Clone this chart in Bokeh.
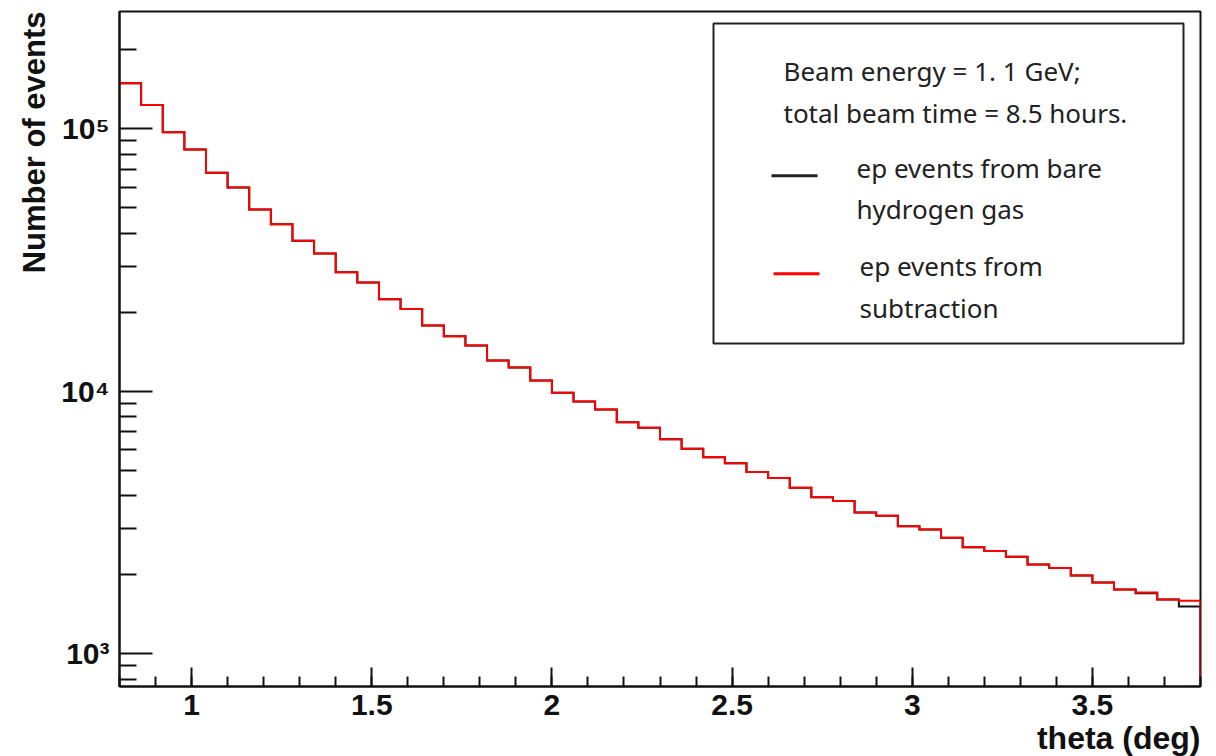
import numpy as np
from bokeh.plotting import figure
from bokeh.models import (Range1d, SingleIntervalTicker, FixedTicker, Title,
                          CustomJSTickFormatter, Label, BoxAnnotation, Arrow)
from bokeh.embed import file_html
from bokeh.resources import INLINE

# ---------------- data ----------------
theta_edges = np.round(np.linspace(0.8, 3.8, 51), 2)   # 50 bins of 0.06 deg

subtraction_counts = [149200, 123400, 97000, 83400, 68000, 59800, 49300, 43300, 37500, 33500,
                      28400, 26000, 22400, 20600, 17800, 16200, 14940, 13100, 12320, 10990,
                      9870, 9140, 8520, 7620, 7260, 6570, 6040, 5600, 5320, 4920,
                      4670, 4290, 3950, 3815, 3454, 3355, 3062, 2975, 2766, 2547,
                      2460, 2342, 2189, 2119, 1987, 1869, 1758, 1712, 1610, 1592]

bare_h2_counts = [149200, 123400, 97000, 83400, 68000, 59800, 49300, 43300, 37500, 33500,
                  28400, 26000, 22400, 20600, 17800, 16200, 14940, 13100, 12320, 10990,
                  9870, 9140, 8520, 7620, 7260, 6570, 6040, 5600, 5320, 4920,
                  4670, 4290, 3950, 3815, 3454, 3355, 3062, 2975, 2766, 2547,
                  2460, 2342, 2189, 2119, 1987, 1869, 1758, 1700, 1610, 1514]

x_major_ticks = [1.0, 1.5, 2.0, 2.5, 3.0, 3.5]
x_tick_labels = ["1", "1.5", "2", "2.5", "3", "3.5"]
y_major_ticks = [1e3, 1e4, 1e5]
y_minor_ticks = [m * 10 ** k for k in (2, 3, 4, 5) for m in range(2, 10)]

x_title = "theta (deg)"
y_title = "Number of events"
legend_header = ["Beam energy = 1. 1 GeV;", "total beam time = 8.5 hours."]
legend_black = ["ep events from bare", "hydrogen gas"]
legend_red = ["ep events from", "subtraction"]


def steps(edges, vals, floor=1.0):
    xs = [edges[0]]
    ys = [vals[0]]
    for i, v in enumerate(vals):
        xs += [edges[i], edges[i + 1]]
        ys += [v, v]
    xs.append(edges[-1])
    ys.append(floor)
    return xs, ys


# ---------------- figure ----------------
p = figure(width=1216, height=756, y_axis_type="log",
           x_range=Range1d(0.8, 3.8), y_range=Range1d(750, 2.8e5),
           output_backend="svg", toolbar_location=None,
           min_border_left=119, min_border_right=16,
           min_border_top=11, min_border_bottom=70)
p.background_fill_color = "white"
p.border_fill_color = "white"
p.xgrid.visible = False
p.ygrid.visible = False
p.outline_line_color = "#111111"
p.outline_line_width = 2

bx, by = steps(theta_edges, bare_h2_counts)
p.line(bx, by, line_color="#111111", line_width=2, line_join="miter")
rx, ry = steps(theta_edges, subtraction_counts)
p.line(rx, ry, line_color="#ff0000", line_width=2, line_join="miter")

# x axis
xa = p.xaxis[0]
xa.ticker = SingleIntervalTicker(interval=0.5, num_minor_ticks=5)
xa.axis_line_color = "#111111"
xa.axis_line_width = 2
xa.major_tick_in = 19
xa.major_tick_out = 0
xa.minor_tick_in = 10
xa.minor_tick_out = 0
xa.major_tick_line_width = 2
xa.minor_tick_line_width = 2
xa.major_tick_line_color = "#111111"
xa.minor_tick_line_color = "#111111"
xa.major_label_text_font = "Liberation Sans"
xa.major_label_text_font_style = "bold"
xa.major_label_text_font_size = "30px"
xa.major_label_text_color = "#111111"
xa.major_label_standoff = 8
xa.major_label_overrides = dict(zip(x_major_ticks, x_tick_labels))

# y axis
ya = p.yaxis[0]
ya.ticker = FixedTicker(ticks=y_major_ticks, minor_ticks=y_minor_ticks)
ya.formatter = CustomJSTickFormatter(code="""
const sup = {"0":"\u2070","1":"\u00b9","2":"\u00b2","3":"\u00b3","4":"\u2074","5":"\u2075","6":"\u2076","7":"\u2077","8":"\u2078","9":"\u2079","-":"\u207b"};
const e = Math.round(Math.log10(tick));
return "10" + String(e).split("").map(c => sup[c]).join("");
""")
ya.axis_line_color = "#111111"
ya.axis_line_width = 2
ya.major_tick_in = 33
ya.major_tick_out = 0
ya.minor_tick_in = 17
ya.minor_tick_out = 0
ya.major_tick_line_width = 2
ya.minor_tick_line_width = 2
ya.major_tick_line_color = "#111111"
ya.minor_tick_line_color = "#111111"
ya.major_label_text_font = "Liberation Sans"
ya.major_label_text_font_style = "bold"
ya.major_label_text_font_size = "30px"
ya.major_label_text_color = "#111111"
ya.major_label_standoff = 10

# axis titles as side-panel titles (ROOT style: aligned to the axis end)
p.add_layout(Title(text=x_title, align="right", text_font="Liberation Sans",
                   text_font_style="bold", text_font_size="32px",
                   text_color="#111111", standoff=0), "below")
p.add_layout(Title(text=y_title, align="right", text_font="Liberation Sans",
                   text_font_style="bold", text_font_size="31px",
                   text_color="#111111", standoff=13), "left")

# legend box (screen units relative to the frame: left=119, bottom=686)
p.add_layout(BoxAnnotation(left=594, right=1064, top=663, bottom=343,
                           left_units="screen", right_units="screen",
                           top_units="screen", bottom_units="screen",
                           fill_color="white", fill_alpha=1.0,
                           line_color="#222222", line_width=2, line_alpha=1.0))

def legend_text(txt, x, y):
    p.add_layout(Label(x=x, y=y, x_units="screen", y_units="screen", text=txt,
                       text_align="left", text_baseline="alphabetic",
                       text_font="Noto Sans", text_font_size="26px",
                       text_color="#222222"))

legend_text(legend_header[0], 664, 616)
legend_text(legend_header[1], 664, 574)
legend_text(legend_black[0], 737, 519)
legend_text(legend_black[1], 737, 478)
legend_text(legend_red[0], 740, 421)
legend_text(legend_red[1], 740, 379)

p.add_layout(Arrow(x_start=652, y_start=510.7, x_end=698, y_end=510.7,
                   start_units="screen", end_units="screen", end=None,
                   line_color="#222222", line_width=3))
p.add_layout(Arrow(x_start=654, y_start=412.7, x_end=700, y_end=412.7,
                   start_units="screen", end_units="screen", end=None,
                   line_color="#ff0000", line_width=3))

open("out.html", "w").write(file_html(p, INLINE))
